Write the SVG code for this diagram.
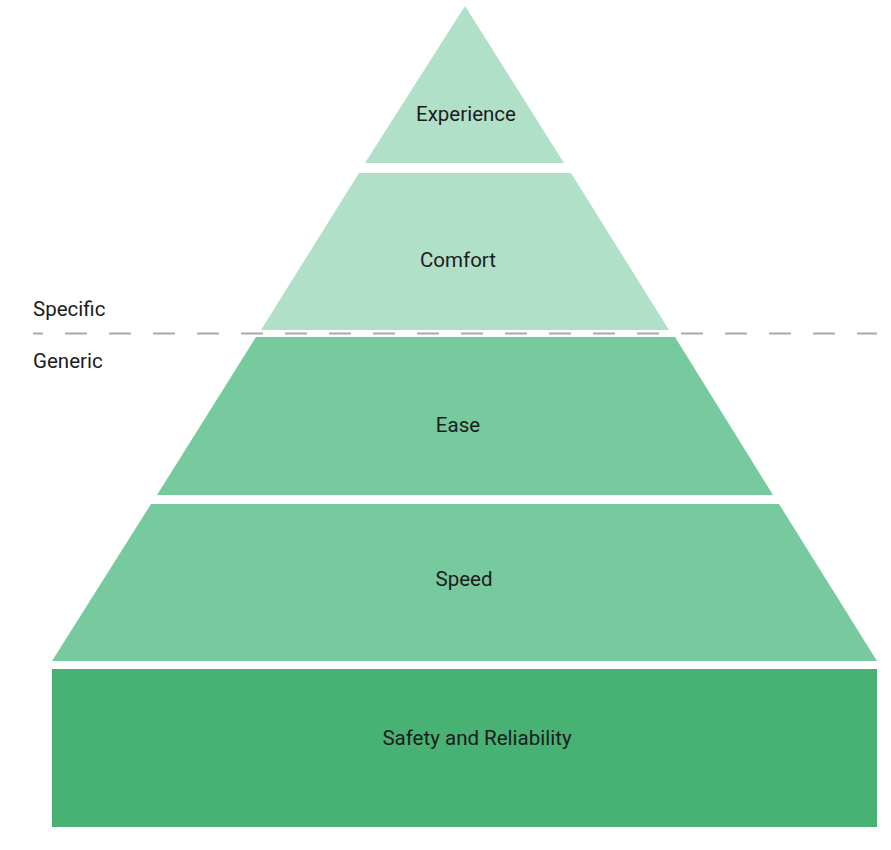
<svg xmlns="http://www.w3.org/2000/svg" width="891" height="850" viewBox="0 0 891 850">
<style>
.light{fill:#b1e0c8}
.mid{fill:#77c99e}
.dark{fill:#47b274}
.lbl{font-family:Roboto,"Liberation Sans",sans-serif;font-size:20.5px;fill:#1c1c1c;text-anchor:middle}
.side{font-family:Roboto,"Liberation Sans",sans-serif;font-size:20.5px;fill:#1c1c1c}
</style>
<rect width="891" height="850" fill="#ffffff"/>
<g id="experience">
<polygon class="light" points="465,6 564,163 365,163"/>
<text class="lbl" x="466" y="120.5">Experience</text>
</g>
<g id="comfort">
<polygon class="light" points="359,173 571,173 669,330 261,330"/>
<text class="lbl" x="458" y="267">Comfort</text>
</g>
<g id="ease">
<polygon class="mid" points="256,337 675,337 773,495 157,495"/>
<text class="lbl" x="458" y="432">Ease</text>
</g>
<g id="speed">
<polygon class="mid" points="151,504 779,504 877,661 52,661"/>
<text class="lbl" x="464" y="585.5">Speed</text>
</g>
<g id="safety">
<rect class="dark" x="52" y="669" width="825" height="158"/>
<text class="lbl" x="477" y="745">Safety and Reliability</text>
</g>
<g id="connectors">
<line x1="33" y1="333.5" x2="877" y2="333.5" stroke="#aaaaaa" stroke-width="2" stroke-dasharray="22 22" stroke-dashoffset="12"/>
</g>
<g id="labels">
<text class="side" x="33" y="316">Specific</text>
<text class="side" x="33" y="368">Generic</text>
</g>
</svg>
